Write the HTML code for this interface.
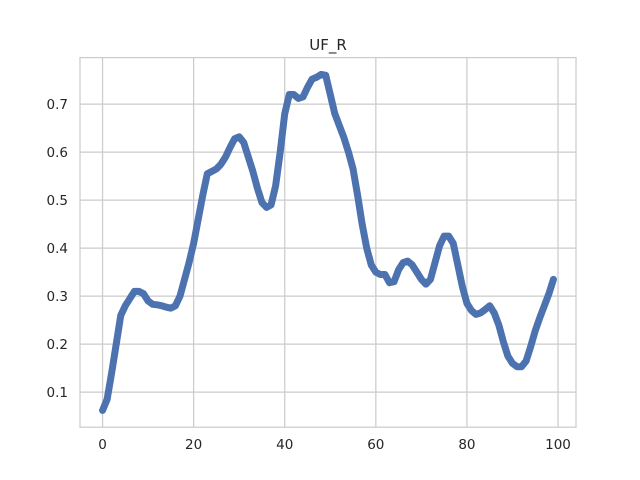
<!DOCTYPE html>
<html><head><meta charset="utf-8"><style>
body{margin:0;background:#fff}
svg{display:block;font-family:"DejaVu Sans","Liberation Sans",sans-serif}
</style></head><body>
<svg id="chart" width="640" height="480">
<rect width="640" height="480" fill="#fff"/>
<g id="grid"></g>
<g id="ticks"></g>
<rect x="80" y="57.6" width="496" height="369.6" fill="none" stroke="#cccccc" stroke-width="1.25"/>
<g id="series"></g>
<text x="328" y="50" text-anchor="middle" font-size="15" fill="#262626">UF_R</text>
</svg>
<script>
const xTicks=[0,20,40,60,80,100];
const yTicks=[0.1,0.2,0.3,0.4,0.5,0.6,0.7];
const yTickLabels=["0.1","0.2","0.3","0.4","0.5","0.6","0.7"];
const values=[0.062,0.085,0.14,0.2,0.26,0.28,0.295,0.31,0.31,0.305,
0.29,0.283,0.282,0.28,0.277,0.275,0.28,0.3,0.335,0.37,
0.41,0.46,0.51,0.555,0.56,0.565,0.575,0.59,0.61,0.628,
0.632,0.62,0.59,0.56,0.525,0.495,0.485,0.49,0.53,0.6,
0.68,0.72,0.72,0.712,0.715,0.735,0.752,0.756,0.762,0.76,
0.72,0.68,0.655,0.63,0.6,0.565,0.51,0.45,0.4,0.365,
0.35,0.345,0.345,0.328,0.33,0.355,0.37,0.373,0.365,0.35,
0.335,0.325,0.335,0.37,0.405,0.425,0.425,0.41,0.365,0.32,
0.285,0.27,0.262,0.265,0.272,0.28,0.265,0.24,0.205,0.175,
0.16,0.153,0.153,0.165,0.195,0.228,0.255,0.28,0.305,0.335];
const NS="http://www.w3.org/2000/svg";
const L=80,R=576,T=57.6,B=427.2;
const xmin=-4.95,xmax=103.95,ymin=0.027,ymax=0.797;
const xs=v=>L+(v-xmin)/(xmax-xmin)*(R-L);
const ys=v=>B-(v-ymin)/(ymax-ymin)*(B-T);
const grid=document.getElementById('grid'),ticks=document.getElementById('ticks');
function mk(tag,attrs,parent){const e=document.createElementNS(NS,tag);for(const k in attrs)e.setAttribute(k,attrs[k]);parent.appendChild(e);return e;}
xTicks.forEach(t=>{
 const g=mk('line',{x1:xs(t),x2:xs(t),y1:T,y2:B,stroke:'#cccccc','stroke-width':1.25},grid);
 
 
 const tx=mk('text',{x:xs(t),y:B+22,'text-anchor':'middle','font-size':13.5,fill:'#262626'},ticks);
 tx.textContent=String(t);
 
 
});
yTicks.forEach((t,i)=>{
 const g=mk('line',{x1:L,x2:R,y1:ys(t),y2:ys(t),stroke:'#cccccc','stroke-width':1.25},grid);
 
 
 const tx=mk('text',{x:L-12,y:ys(t)+5,'text-anchor':'end','font-size':13.5,fill:'#262626'},ticks);
 tx.textContent=yTickLabels[i];
 
 
});
const d=values.map((v,i)=>(i?'L':'M')+xs(i).toFixed(2)+','+ys(v).toFixed(2)).join('');
const p=mk('path',{d:d,fill:'none',stroke:'#4c72b0','stroke-width':7,'stroke-linejoin':'round','stroke-linecap':'round'},document.getElementById('series'));


</script>
</body></html>
